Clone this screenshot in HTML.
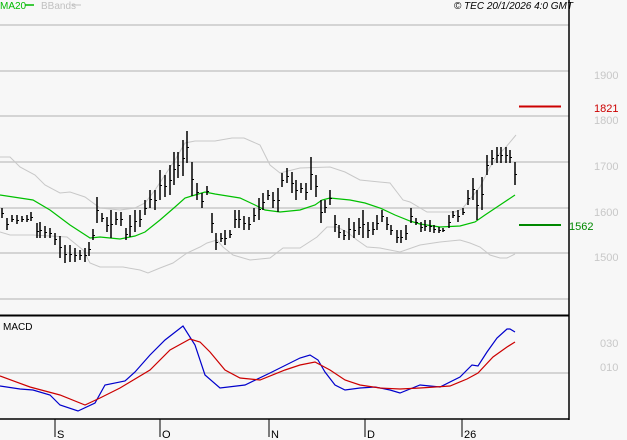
<!DOCTYPE html>
<html><head><meta charset="utf-8"><style>
html,body{margin:0;padding:0;background:#f7f7f7;}
svg{display:block;font-family:"Liberation Sans",sans-serif;}
</style></head><body>
<svg id="c" width="627" height="440" viewBox="0 0 627 440" xmlns="http://www.w3.org/2000/svg">
<rect width="627" height="440" fill="#f7f7f7"/>
<g stroke="#c8c8c8" stroke-width="1.5">
<line x1="0" y1="25" x2="569" y2="25"/><line x1="0" y1="71" x2="569" y2="71"/>
<line x1="0" y1="116" x2="569" y2="116"/><line x1="0" y1="162" x2="569" y2="162"/>
<line x1="0" y1="208" x2="569" y2="208"/><line x1="0" y1="253" x2="569" y2="253"/>
<line x1="0" y1="299" x2="569" y2="299"/><line x1="0" y1="373" x2="569" y2="373"/>
</g>
<g fill="none" stroke="#c8c8c8" stroke-width="1">
<polyline points="0,157 10,157 20,167 35,175 45,185 60,193 70,192 85,197 100,208 120,210 135,208 145,203 155,190 165,175 175,160 185,143 195,141 215,141 232,138 244,138 260,145 270,165 280,173 300,168 330,167 345,172 360,180 390,183 403,200 410,202 427,212 455,212 462,209 467,203 480,187 490,167 500,153 506,147 516,135"/>
<polyline points="0,232 10,235 33,235 67,237 83,250 90,263 100,267 123,267 140,270 148,273 160,268 173,263 187,253 200,247 207,243 217,240 223,247 233,255 250,260 270,258 283,248 300,248 317,237 327,227 337,227 347,232 357,240 367,247 380,248 400,252 420,245 440,242 460,240 470,243 480,247 490,255 500,258 507,258 515,254"/>
</g>
<polyline fill="none" stroke="#00c000" stroke-width="1.2" points="0,195 33,200 50,210 70,225 90,238 100,237 120,239 135,236 145,232 160,220 175,207 185,198 195,195 205,192 215,194 240,198 255,205 265,210 280,212 300,210 315,205 322,200 330,198 340,199 350,200 365,203 380,208 395,215 410,221 420,224 440,227 460,226 475,222 485,215 500,205 515,195"/>
<g id="bars" stroke="#000" stroke-width="1.5"></g>
<g fill="none" stroke-width="1.2">
<polyline stroke="#0000cc" points="0,386 20,389 33,390 50,395 60,405 78,411 95,403 105,385 125,381 135,372 150,355 165,340 183,326 195,345 205,375 220,388 245,385 270,373 300,358 310,355 318,360 325,372 335,385 345,390 360,388 375,387 390,390 400,393 420,385 440,387 460,377 472,365 478,366 487,352 497,338 507,329 510,329 515,332"/>
<polyline stroke="#cc0000" points="0,376 30,387 60,395 85,405 100,398 120,388 150,370 170,350 190,339 200,342 210,352 225,370 240,378 260,380 285,370 300,365 315,362 330,370 345,380 360,385 380,388 400,389 420,388 450,386 467,379 478,373 493,357 507,347 515,342"/>
</g>
<line x1="569" y1="0" x2="569" y2="420" stroke="#000" stroke-width="1.5"/>
<line x1="0" y1="315.5" x2="569" y2="315.5" stroke="#000" stroke-width="2"/>
<line x1="0" y1="419" x2="569" y2="419" stroke="#000" stroke-width="1.5"/>
<g stroke="#000" stroke-width="1"><line x1="55" y1="419" x2="55" y2="437"/><line x1="160" y1="419" x2="160" y2="437"/><line x1="269" y1="419" x2="269" y2="437"/><line x1="365" y1="419" x2="365" y2="437"/><line x1="462" y1="419" x2="462" y2="437"/></g>
<g font-size="11" fill="#000"><text x="57" y="438">S</text><text x="162" y="438">O</text><text x="271" y="438">N</text><text x="367" y="438">D</text><text x="464" y="438">26</text></g>
<text x="3" y="330" font-size="10" fill="#000">MACD</text>
<g font-size="11" fill="#c8c8c8"><text x="594" y="79">1900</text><text x="594" y="124">1800</text><text x="594" y="170">1700</text><text x="594" y="216">1600</text><text x="594" y="261">1500</text><text x="600" y="347">030</text><text x="600" y="371">010</text></g>
<line x1="519" y1="106.5" x2="561" y2="106.5" stroke="#cc0000" stroke-width="2"/>
<text x="594" y="112" font-size="11" fill="#cc0000">1821</text>
<line x1="519" y1="225" x2="561" y2="225" stroke="#008800" stroke-width="2"/>
<text x="569" y="230" font-size="11" fill="#008800">1562</text>
<text x="0" y="9" font-size="10" fill="#00bb00">MA20</text><line x1="25" y1="5" x2="34" y2="5" stroke="#00bb00" stroke-width="1.5"/>
<text x="41" y="9" font-size="10" fill="#c0c0c0">BBands</text><line x1="72" y1="5" x2="81" y2="5" stroke="#c0c0c0" stroke-width="1"/>
<text x="573" y="9" font-size="10" font-style="italic" fill="#000" text-anchor="end">© TEC 20/1/2026 4:0 GMT</text>
</svg>
<script>
var d=[[2,208,218],[7,218,230],[12,215,222],[17,215,224],[22,216,222],[27,215,222],[31,212,221],[37,223,238],[40,222,238],[45,226,238],[50,228,238],[55,233,245],[60,236,258],[65,245,263],[70,245,262],[75,248,262],[80,250,260],[85,248,262],[89,242,256],[93,229,240],[97,197,223],[102,213,222],[107,217,232],[111,210,238],[116,212,225],[121,212,226],[126,228,240],[130,215,237],[135,210,232],[140,210,227],[145,200,215],[150,190,208],[155,190,210],[160,170,200],[165,175,197],[170,165,195],[174,152,185],[178,152,178],[183,140,176],[187,131,163],[192,162,196],[197,183,200],[202,193,208],[207,186,195],[212,213,233],[216,233,250],[221,233,242],[225,230,245],[230,230,238],[235,210,228],[239,210,228],[244,216,230],[249,217,230],[254,208,222],[259,198,220],[263,193,210],[268,190,200],[273,192,208],[278,188,212],[282,173,187],[287,168,183],[292,172,193],[296,180,200],[301,183,193],[306,183,200],[311,157,190],[316,175,197],[321,200,223],[325,200,213],[330,190,205],[335,215,232],[339,225,238],[344,230,240],[349,218,240],[354,222,238],[359,218,235],[363,210,238],[368,222,238],[373,222,235],[377,215,230],[382,210,222],[387,217,230],[391,225,235],[397,230,243],[401,230,243],[406,225,240],[411,208,223],[416,218,225],[421,222,232],[425,220,231],[430,220,232],[434,225,233],[439,227,233],[443,228,232],[449,215,228],[453,211,218],[458,210,222],[463,208,215],[468,190,205],[473,178,200],[477,190,220],[482,177,210],[487,155,175],[492,150,165],[497,147,163],[501,147,163],[506,147,163],[510,150,163],[515,162,185]];
var s='';d.forEach(function(b){var m=Math.round((b[1]+b[2])/2)+0.5;s+='<line x1="'+b[0]+'" y1="'+b[1]+'" x2="'+b[0]+'" y2="'+b[2]+'"/><line x1="'+b[0]+'" y1="'+m+'" x2="'+(b[0]+2)+'" y2="'+m+'" stroke-width="1"/>';});
document.getElementById('bars').innerHTML=s;
</script>
</body></html>
